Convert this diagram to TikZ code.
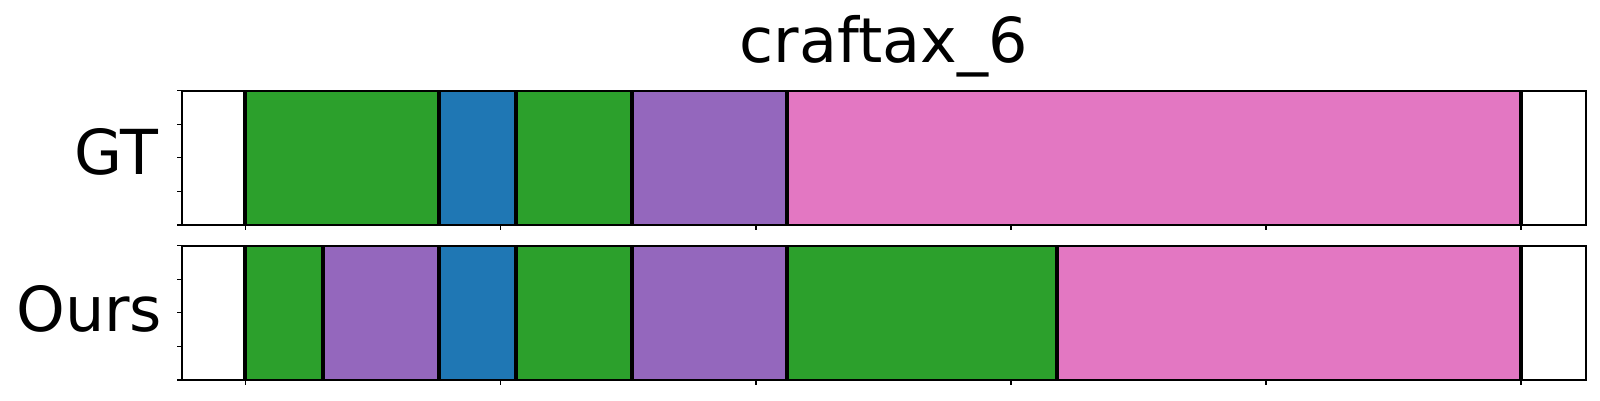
\documentclass[tikz,border=0pt]{standalone}
\usepackage{fontspec}
\setmainfont{DejaVu Sans}
\usepackage{tikz}
\definecolor{tabgreen}{HTML}{2CA02C}
\definecolor{tabblue}{HTML}{1F77B4}
\definecolor{tabpurple}{HTML}{9467BD}
\definecolor{tabpink}{HTML}{E377C2}

\begin{document}
\begin{tikzpicture}[x=1pt, y=-1pt,
        boundary/.style={line width=4pt},
        axisframe/.style={line width=1.6pt},
        tickmark/.style={line width=1.2pt},
        bigtext/.style={inner sep=0pt, font=\fontsize{62}{74}\selectfont}]
        \useasboundingbox[fill=white] (0, 0) rectangle (1600, 400);
        % title and row names
        \node(title)[bigtext, anchor=base] at (883.7, 62.7) {craftax\_6};
        \node(gt)[bigtext, anchor=base east] at (158.8, 174.3) {GT};
        \node(ours)[bigtext, anchor=base east] at (162.5, 331.7) {Ours};
        % GT row
        \fill[tabgreen] (245, 90.7) rectangle (438.7, 225);
        \fill[tabblue] (438.7, 90.7) rectangle (515.8, 225);
        \fill[tabgreen] (515.8, 90.7) rectangle (631.8, 225);
        \fill[tabpurple] (631.8, 90.7) rectangle (787, 225);
        \fill[tabpink] (787, 90.7) rectangle (1521, 225);
        \foreach \b in {245, 438.7, 515.8, 631.8, 787, 1521}
            \draw[boundary] (\b, 90.7) -- (\b, 225);
        % Ours row
        \fill[tabgreen] (245, 245.7) rectangle (322.8, 380);
        \fill[tabpurple] (322.8, 245.7) rectangle (438.7, 380);
        \fill[tabblue] (438.7, 245.7) rectangle (515.8, 380);
        \fill[tabgreen] (515.8, 245.7) rectangle (631.8, 380);
        \fill[tabpurple] (631.8, 245.7) rectangle (787, 380);
        \fill[tabgreen] (787, 245.7) rectangle (1057, 380);
        \fill[tabpink] (1057, 245.7) rectangle (1521, 380);
        \foreach \b in {245, 322.8, 438.7, 515.8, 631.8, 787, 1057, 1521}
            \draw[boundary] (\b, 245.7) -- (\b, 380);
        % frames and ticks
        \draw[axisframe] (181.7, 90.7) rectangle (1585.7, 225);
        \draw[axisframe] (181.7, 245.7) rectangle (1585.7, 380);
        \foreach \t in {245.7, 500.8, 755.9, 1011, 1266, 1521} {
            \draw[tickmark] (\t, 225) -- (\t, 230);
            \draw[tickmark] (\t, 380) -- (\t, 385);
        }
        \foreach \t in {90.7, 124.3, 157.8, 191.4, 225} {
            \draw[tickmark] (181.7, \t) -- (176.7, \t);
            \draw[tickmark] (181.7, \t + 155) -- (176.7, \t + 155);
        }
    \end{tikzpicture}
\end{document}
